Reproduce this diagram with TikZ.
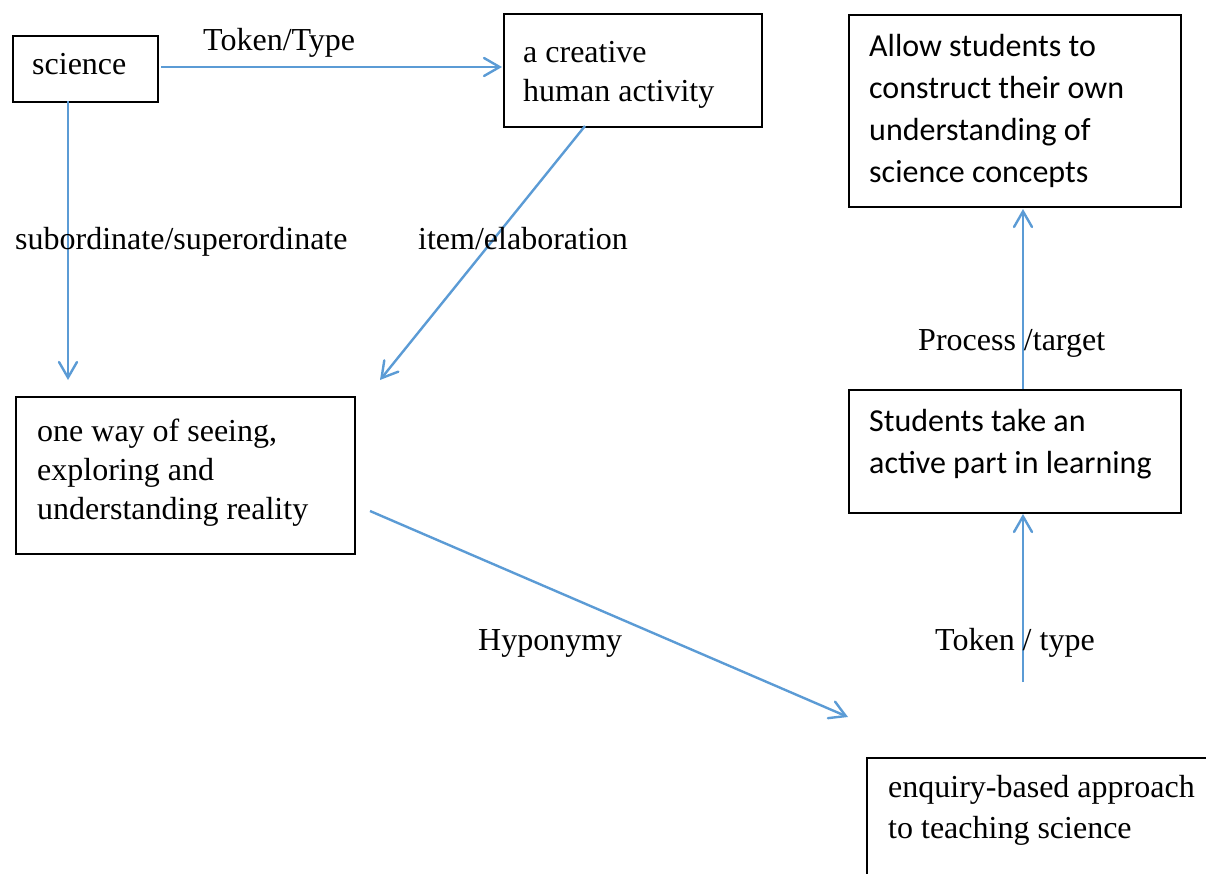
\documentclass[tikz,border=0pt]{standalone}
\usepackage{fontspec}
\setmainfont{Liberation Serif}
\newfontfamily\calfont{Carlito}
\usetikzlibrary{arrows.meta}
\definecolor{lnblue}{HTML}{5B9BD5}
\tikzset{
  box/.style={draw=black, line width=1.6pt, inner sep=0pt, anchor=north west},
  serif/.style={font=\fontsize{32}{39}\selectfont, inner sep=0pt, align=left, anchor=north west, execute at begin node=\strut},
  sans/.style={font=\calfont\fontsize{32}{42}\selectfont, inner sep=0pt, align=left, anchor=north west, execute at begin node=\strut},
  lbl/.style={font=\fontsize{32}{39}\selectfont, inner sep=0pt, anchor=base west},
  conn/.style={draw=lnblue, line width=2.4pt, -{Straight Barb[angle=60:18pt, line cap=round]}},
}
\begin{document}
\begin{tikzpicture}[x=1pt, y=-1pt]
\useasboundingbox (0,0) rectangle (1206,874);
\clip (0,0) rectangle (1206,874);
% boxes
\node[box, minimum width=145pt, minimum height=66pt] (science) at (12,35) {};
\node[box, minimum width=258pt, minimum height=113pt] (creative) at (503,13) {};
\node[box, minimum width=332pt, minimum height=192pt] (allow) at (848,14) {};
\node[box, minimum width=339pt, minimum height=157pt] (oneway) at (15,396) {};
\node[box, minimum width=332pt, minimum height=123pt] (students) at (848,389) {};
\node[box, minimum width=400pt, minimum height=200pt] (enquiry) at (866,757) {};
% texts
\node[serif] (scienceT) at (32,47.3) {science};
\node[serif] (creativeT) at (523,41) {a creative\\human activity};
\node[sans] (allowT) at (869,34) {Allow students to\\construct their own\\understanding of\\science concepts};
\node[serif] (onewayT) at (37,418.7) {one way of seeing,\\exploring and\\understanding reality};
\node[sans] (studentsT) at (869,408.8) {Students take an\\active part in learning};
\node[serif, font=\fontsize{32}{41}\selectfont] (enquiryT) at (888,775) {enquiry-based approach\\to teaching science};
% connector end coordinates
\coordinate (c1s) at (161,67);
\coordinate (c1e) at (502,67);
\coordinate (c2s) at (68,101);
\coordinate (c2e) at (68,380);
\coordinate (c3s) at (585,126);
\coordinate (c3e) at (380,380);
\coordinate (c4s) at (370,511);
\coordinate (c4e) at (848,717);
\coordinate (c5s) at (1023,682);
\coordinate (c5e) at (1023,514);
\coordinate (c6s) at (1023,389);
\coordinate (c6e) at (1023,209);
% connectors
\draw[conn] (c1s) -- (c1e);
\draw[conn] (c2s) -- (c2e);
\draw[conn] (c3s) -- (c3e);
\draw[conn] (c4s) -- (c4e);
\draw[conn] (c5s) -- (c5e);
\draw[conn] (c6s) -- (c6e);
% labels
\node[lbl] (l1) at (203,51) {Token/Type};
\node[lbl] (l2) at (15,250) {subordinate/superordinate};
\node[lbl] (l3) at (418,250) {item/elaboration};
\node[lbl] (l4) at (918,350) {Process /target};
\node[lbl] (l5) at (478,650) {Hyponymy};
\node[lbl] (l6) at (935,650) {Token / type};
\end{tikzpicture}
\end{document}
